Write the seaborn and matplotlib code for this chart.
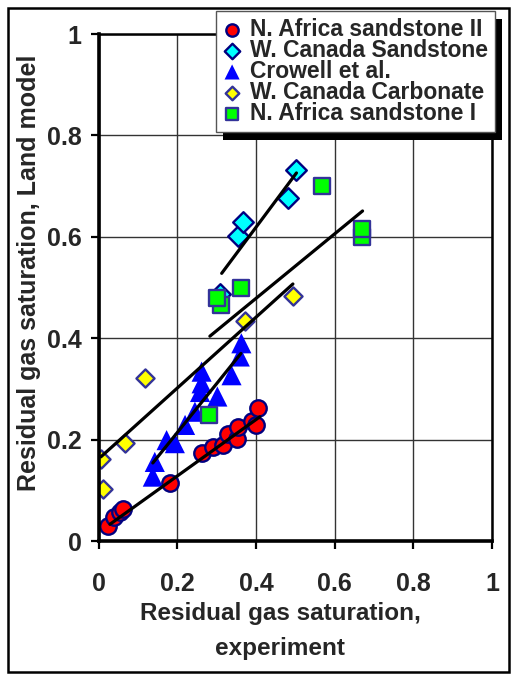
"""Residual gas saturation: Land model vs experiment."""

import matplotlib
matplotlib.use("Agg")
import matplotlib.pyplot as plt
import seaborn as sns
from matplotlib.patches import Rectangle

# --- data ---
red_x = [0.023, 0.040, 0.055, 0.062, 0.181, 0.264, 0.291, 0.317, 0.328, 0.351, 0.355, 0.389, 0.400, 0.406]
red_y = [0.030, 0.047, 0.057, 0.064, 0.114, 0.173, 0.186, 0.189, 0.212, 0.201, 0.225, 0.237, 0.229, 0.262]

cyan_x = [0.309, 0.355, 0.368, 0.482, 0.503]
cyan_y = [0.487, 0.602, 0.630, 0.677, 0.732]

blue_x = [0.138, 0.143, 0.173, 0.194, 0.220, 0.245, 0.258, 0.262, 0.262, 0.302, 0.338, 0.359, 0.363]
blue_y = [0.127, 0.156, 0.199, 0.193, 0.229, 0.255, 0.294, 0.311, 0.334, 0.285, 0.327, 0.364, 0.390]

yellow_x = [0.006, 0.012, 0.067, 0.118, 0.372, 0.494]
yellow_y = [0.161, 0.103, 0.194, 0.322, 0.433, 0.484]

green_x = [0.280, 0.310, 0.300, 0.361, 0.569, 0.670, 0.670]
green_y = [0.248, 0.465, 0.479, 0.500, 0.700, 0.600, 0.615]

# trend line end points (x, y)
fit_red = ([0.029, 0.410], [0.033, 0.245])
fit_blue = ([0.138, 0.362], [0.154, 0.370])
fit_yellow = ([0.006, 0.494], [0.166, 0.507])
fit_green = ([0.283, 0.671], [0.404, 0.651])
fit_cyan = ([0.313, 0.503], [0.528, 0.726])

ticks = [0, 0.2, 0.4, 0.6, 0.8, 1]
tick_labels = ["0", "0.2", "0.4", "0.6", "0.8", "1"]

sns.set_theme(style="white")
plt.rcParams['font.family'] = ['Liberation Sans', 'DejaVu Sans']
plt.rcParams['font.weight'] = 'bold'

fig = plt.figure(figsize=(5.12, 6.74), dpi=100)
ax = fig.add_axes([0.1924, 0.1973, 0.7686, 0.7522])

series = [
    ("N. Africa sandstone II", red_x, red_y, "#ff0000", "o", 140, "#000080"),
    ("W. Canada Sandstone", cyan_x, cyan_y, "#00ffff", "D", 110, "#000080"),
    ("Crowell et al.", blue_x, blue_y, "#0000ff", "^", 210, "none"),
    ("W. Canada Carbonate", yellow_x, yellow_y, "#ffff00", "D", 85, "#333399"),
    ("N. Africa sandstone I", green_x, green_y, "#00ff00", "s", 120, "#333399"),
]
for name, xs, ys, color, marker, size, edge in series:
    sns.scatterplot(x=xs, y=ys, ax=ax, color=color, marker=marker, s=size,
                    edgecolor=edge, linewidth=1.7, label=name, zorder=3)

for fx, fy in [fit_red, fit_blue, fit_yellow, fit_green, fit_cyan]:
    sns.lineplot(x=fx, y=fy, ax=ax, color="black", lw=2.3, sort=False,
                 estimator=None, zorder=4)

ax.set_xlim(0, 1)
ax.set_ylim(0, 1)
ax.set_xticks(ticks)
ax.set_yticks(ticks)
ax.set_xticklabels(tick_labels, fontsize=18, fontweight="bold")
ax.set_yticklabels(tick_labels, fontsize=18, fontweight="bold")
ax.tick_params(direction="out", length=6, width=1.6, color="black",
               bottom=True, left=True)
ax.tick_params(axis="x", pad=16)
ax.tick_params(axis="y", pad=6)
ax.grid(True, color="#333333", lw=1.0)
for side in ["left", "bottom"]:
    ax.spines[side].set_linewidth(2.6)
for side in ["top", "right"]:
    ax.spines[side].set_linewidth(1.8)
for sp in ax.spines.values():
    sp.set_color("black")
    sp.set_zorder(5)

ax.set_xlabel("Residual gas saturation,\nexperiment", fontsize=17.5,
              fontweight="bold", linespacing=1.65)
ax.xaxis.set_label_coords(0.462, -0.12)
ax.set_ylabel("Residual gas saturation, Land model", fontsize=18,
              fontweight="bold")
ax.yaxis.set_label_coords(-0.145, 0.53)

leg = ax.legend(loc="upper left", bbox_to_anchor=(0.422, 0.984),
                bbox_transform=fig.transFigure, frameon=True, fancybox=False,
                prop={"size": 16.5, "weight": "bold"}, markerscale=0.75,
                handlelength=0.8, handletextpad=0.4, labelspacing=-0.08,
                borderpad=0.3, borderaxespad=0)
leg.get_frame().set_edgecolor("#555555")
leg.get_frame().set_linewidth(1.0)
leg.get_frame().set_alpha(1)
leg.set_zorder(10)

# drop shadow behind the legend box
fig.canvas.draw()
bb = leg.get_window_extent().transformed(fig.transFigure.inverted())
ax.add_patch(Rectangle((bb.x0 + 7 / 512, bb.y0 - 8 / 674), bb.width, bb.height,
                       transform=fig.transFigure, facecolor="black",
                       edgecolor="none", clip_on=False, zorder=9))

# outer frame around the whole chart
fig.patches.append(Rectangle((8 / 512, 2 / 674), 501 / 512, 664 / 674,
                             transform=fig.transFigure, fill=False,
                             edgecolor="black", lw=1.8))

fig.savefig("out.png", dpi=100)
